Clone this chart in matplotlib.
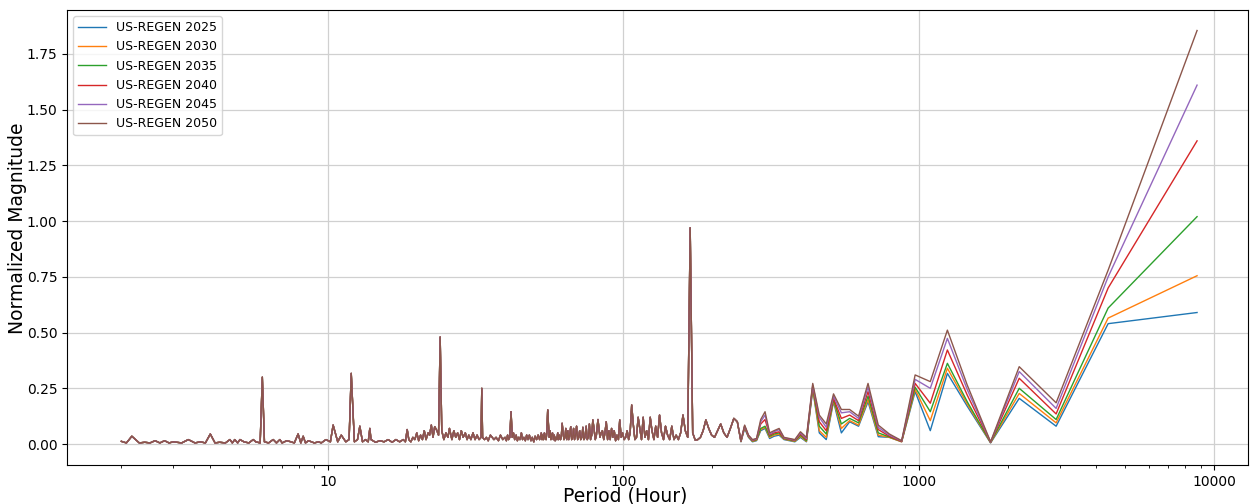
import matplotlib
matplotlib.use('Agg')
import matplotlib.pyplot as plt
import numpy as np

# ---- data ----
scenarios = ['US-REGEN 2025', 'US-REGEN 2030', 'US-REGEN 2035',
             'US-REGEN 2040', 'US-REGEN 2045', 'US-REGEN 2050']

# long periods (hours), where the six scenarios separate
low_periods = [8760, 4380, 2920, 2190, 1752, 1460, 1251, 1095, 973, 876,
               796, 730, 674, 626, 584, 547.5, 515, 486.7, 461, 438,
               417, 398, 381, 365, 350, 337, 324, 313, 302, 292,
               282.6, 273.8, 265.5, 257.6, 250.3]

low_2025 = [0.59, 0.54, 0.08, 0.205, 0.005, 0.17, 0.317, 0.06, 0.235, 0.01,
            0.03, 0.033, 0.19, 0.08, 0.10, 0.05, 0.19, 0.02, 0.05, 0.245,
            0.01, 0.03, 0.01, 0.015, 0.02, 0.04, 0.035, 0.025, 0.07, 0.06,
            0.015, 0.01, 0.03, 0.07, 0.01]
low_2030 = [0.755, 0.565, 0.095, 0.227, 0.006, 0.18, 0.34, 0.105, 0.245, 0.01,
            0.03, 0.04, 0.20, 0.085, 0.105, 0.07, 0.195, 0.03, 0.06, 0.25,
            0.012, 0.035, 0.012, 0.017, 0.022, 0.045, 0.04, 0.03, 0.075, 0.065,
            0.017, 0.012, 0.032, 0.075, 0.011]
low_2035 = [1.02, 0.61, 0.11, 0.25, 0.007, 0.19, 0.362, 0.145, 0.255, 0.012,
            0.032, 0.05, 0.215, 0.095, 0.115, 0.09, 0.20, 0.045, 0.08, 0.255,
            0.015, 0.04, 0.014, 0.019, 0.024, 0.05, 0.045, 0.035, 0.08, 0.07,
            0.019, 0.014, 0.034, 0.078, 0.012]
low_2040 = [1.36, 0.70, 0.135, 0.295, 0.008, 0.22, 0.422, 0.183, 0.272, 0.012,
            0.035, 0.065, 0.235, 0.105, 0.13, 0.115, 0.205, 0.06, 0.10, 0.26,
            0.02, 0.045, 0.016, 0.021, 0.026, 0.055, 0.05, 0.04, 0.11, 0.09,
            0.021, 0.016, 0.036, 0.08, 0.013]
low_2045 = [1.61, 0.75, 0.16, 0.325, 0.009, 0.245, 0.474, 0.25, 0.29, 0.014,
            0.04, 0.075, 0.255, 0.115, 0.145, 0.14, 0.215, 0.075, 0.12, 0.265,
            0.025, 0.05, 0.018, 0.023, 0.028, 0.065, 0.055, 0.045, 0.13, 0.10,
            0.023, 0.018, 0.038, 0.082, 0.014]
low_2050 = [1.855, 0.78, 0.185, 0.347, 0.01, 0.265, 0.511, 0.28, 0.31, 0.015,
            0.045, 0.085, 0.272, 0.125, 0.155, 0.155, 0.225, 0.09, 0.13, 0.272,
            0.03, 0.055, 0.02, 0.025, 0.03, 0.07, 0.06, 0.05, 0.145, 0.11,
            0.025, 0.02, 0.04, 0.085, 0.015]

# short periods (hours), where all scenarios lie on top of each other
hf_periods = [243.3, 236.8, 230.5, 224.6, 219.0, 213.7, 208.6, 203.7, 199.1, 194.7,
              190.4, 186.4, 182.5, 178.8, 175.2, 171.8, 168.5, 165.3, 162.2, 159.3,
              156.4, 153.7, 151.0, 148.5, 146.0, 143.6, 141.3, 139.0, 136.9, 134.8,
              132.7, 130.7, 128.8, 127.0, 125.1, 123.4, 121.7, 120.0, 118.4, 116.8,
              115.3, 113.8, 112.3, 110.9, 109.5, 108.1, 106.8, 105.5, 104.3, 103.1,
              101.9, 100.7, 99.5, 98.4, 97.3, 96.3, 95.2, 94.2, 93.2, 92.2,
              91.3, 90.3, 89.4, 88.5, 87.6, 86.7, 85.9, 85.0, 84.2, 83.4,
              82.1, 81.1, 80.4, 79.6, 78.9, 78.2, 77.5, 76.8, 76.2, 75.5,
              74.9, 74.2, 73.6, 73.0, 72.4, 71.8, 71.2, 70.6, 70.1, 69.5,
              69.0, 68.4, 67.9, 67.4, 66.9, 66.4, 65.9, 65.4, 64.9, 64.4,
              63.9, 63.5, 63.0, 62.6, 62.1, 61.7, 61.3, 60.8, 60.4, 60.0,
              59.6, 59.2, 58.8, 58.4, 58.0, 57.6, 57.2, 56.9, 56.5, 56.2,
              55.8, 55.5, 55.1, 54.8, 54.4, 54.1, 53.7, 53.4, 53.1, 52.8,
              52.1, 51.5, 50.9, 50.3, 49.8, 49.2, 48.7, 48.1, 47.6, 47.1,
              46.6, 46.1, 45.6, 45.2, 44.7, 44.2, 43.8, 43.4, 42.9, 42.5,
              42.1, 41.7, 41.3, 40.9, 40.6, 40.2, 39.8, 39.1, 38.4, 37.8,
              37.1, 36.5, 36.0, 35.5, 34.9, 34.4, 33.9, 33.4, 33.2, 33.0,
              32.5, 32.0, 31.5, 31.0, 30.5, 30.0, 29.6, 29.2, 28.7, 28.3,
              27.9, 27.5, 27.1, 26.7, 26.3, 25.8, 25.5, 25.1, 24.7, 24.3,
              24.0, 23.7, 23.4, 23.0, 22.7, 22.4, 22.1, 21.85, 21.5, 21.2,
              20.9, 20.6, 20.3, 20.0, 19.7, 19.4, 19.1, 18.8, 18.56, 18.3,
              18.0, 17.5, 17.0, 16.5, 16.0, 15.5, 15.0, 14.5, 14.0, 13.87,
              13.7, 13.4, 13.1, 12.83, 12.6, 12.3, 12.0, 11.8, 11.5, 11.1,
              10.8, 10.42, 10.2, 9.85, 9.5, 9.3, 9.0, 8.8, 8.6, 8.4,
              8.25, 8.1, 7.93, 7.7, 7.5, 7.26, 7.0, 6.88, 6.7, 6.53,
              6.3, 6.1, 6.0, 5.9, 5.7, 5.59, 5.4, 5.2, 5.04, 4.95,
              4.84, 4.75, 4.66, 4.5, 4.3, 4.15, 4.0, 3.85, 3.7, 3.55,
              3.37, 3.2, 3.0, 2.9, 2.8, 2.7, 2.6, 2.5, 2.4, 2.3,
              2.17, 2.08, 2.0]
hf_values = [0.10, 0.115, 0.07, 0.03, 0.05, 0.09, 0.06, 0.03, 0.04, 0.07,
             0.108, 0.06, 0.03, 0.02, 0.018, 0.05, 0.97, 0.03, 0.06, 0.13,
             0.05, 0.02, 0.04, 0.02, 0.08, 0.02, 0.04, 0.08, 0.02, 0.05,
             0.13, 0.03, 0.08, 0.02, 0.06, 0.12, 0.02, 0.06, 0.03, 0.12,
             0.02, 0.07, 0.12, 0.03, 0.02, 0.09, 0.175, 0.05, 0.02, 0.06,
             0.03, 0.02, 0.05, 0.03, 0.108, 0.02, 0.04, 0.015, 0.06, 0.03,
             0.07, 0.02, 0.06, 0.02, 0.10, 0.05, 0.02, 0.06, 0.05, 0.03,
             0.11, 0.04, 0.02, 0.07, 0.108, 0.04, 0.02, 0.09, 0.03, 0.02,
             0.08, 0.03, 0.02, 0.075, 0.03, 0.02, 0.06, 0.03, 0.02, 0.08,
             0.04, 0.02, 0.07, 0.03, 0.02, 0.078, 0.04, 0.02, 0.06, 0.02,
             0.07, 0.03, 0.02, 0.05, 0.093, 0.03, 0.02, 0.04, 0.02, 0.05,
             0.02, 0.03, 0.015, 0.04, 0.02, 0.05, 0.04, 0.02, 0.06, 0.03,
             0.09, 0.153, 0.05, 0.02, 0.03, 0.05, 0.02, 0.04, 0.02, 0.05,
             0.02, 0.04, 0.02, 0.035, 0.01, 0.03, 0.015, 0.04, 0.02, 0.04,
             0.015, 0.03, 0.02, 0.05, 0.02, 0.03, 0.015, 0.04, 0.02, 0.05,
             0.03, 0.145, 0.03, 0.02, 0.04, 0.015, 0.03, 0.02, 0.04, 0.015,
             0.03, 0.02, 0.03, 0.04, 0.015, 0.03, 0.02, 0.03, 0.25, 0.03,
             0.02, 0.04, 0.02, 0.05, 0.02, 0.04, 0.02, 0.05, 0.03, 0.06,
             0.02, 0.05, 0.03, 0.06, 0.02, 0.07, 0.03, 0.05, 0.02, 0.06,
             0.48, 0.04, 0.06, 0.078, 0.03, 0.085, 0.04, 0.05, 0.02, 0.06,
             0.02, 0.04, 0.015, 0.05, 0.02, 0.03, 0.01, 0.02, 0.065, 0.01,
             0.02, 0.01, 0.02, 0.008, 0.02, 0.01, 0.015, 0.008, 0.02, 0.07,
             0.01, 0.02, 0.01, 0.08, 0.02, 0.01, 0.317, 0.02, 0.01, 0.04,
             0.01, 0.085, 0.01, 0.02, 0.005, 0.01, 0.005, 0.01, 0.015, 0.005,
             0.035, 0.005, 0.045, 0.005, 0.01, 0.015, 0.005, 0.02, 0.005, 0.02,
             0.005, 0.01, 0.30, 0.005, 0.01, 0.02, 0.005, 0.01, 0.02, 0.005,
             0.02, 0.005, 0.02, 0.005, 0.008, 0.005, 0.045, 0.005, 0.01, 0.005,
             0.02, 0.005, 0.01, 0.005, 0.015, 0.005, 0.015, 0.005, 0.008, 0.005,
             0.035, 0.005, 0.012]

low_series = [low_2025, low_2030, low_2035, low_2040, low_2045, low_2050]

# ---- plot ----
fig = plt.figure(figsize=(12.5, 5.04), dpi=100)
ax = fig.add_axes([67 / 1250, 39 / 504, (1248 - 67) / 1250, (494 - 39) / 504])

periods = np.concatenate([low_periods, hf_periods])
for name, low in zip(scenarios, low_series):
    mags = np.concatenate([low, hf_values])
    ax.plot(periods, mags, linewidth=1.0, label=name)

ax.set_xscale('log')
ax.set_xlim(1.309, 13030)
ax.set_ylim(-0.094, 1.947)
ax.set_yticks([0.0, 0.25, 0.5, 0.75, 1.0, 1.25, 1.5, 1.75])
ax.set_xticks([10, 100, 1000, 10000])
ax.set_xticklabels(['10', '100', '1000', '10000'])
ax.tick_params(labelsize=10)
ax.grid(True, which='major', color='#d0d0d0', linewidth=0.9)
ax.set_xlabel('Period (Hour)', fontsize=13.5)
ax.set_ylabel('Normalized Magnitude', fontsize=13.5)
ax.xaxis.set_label_coords(0.4725, -0.047)
ax.yaxis.set_label_coords(-0.034, 0.52)
ax.legend(loc='upper left', fontsize=9, handlelength=2.2)

fig.savefig('out.png', dpi=100)
